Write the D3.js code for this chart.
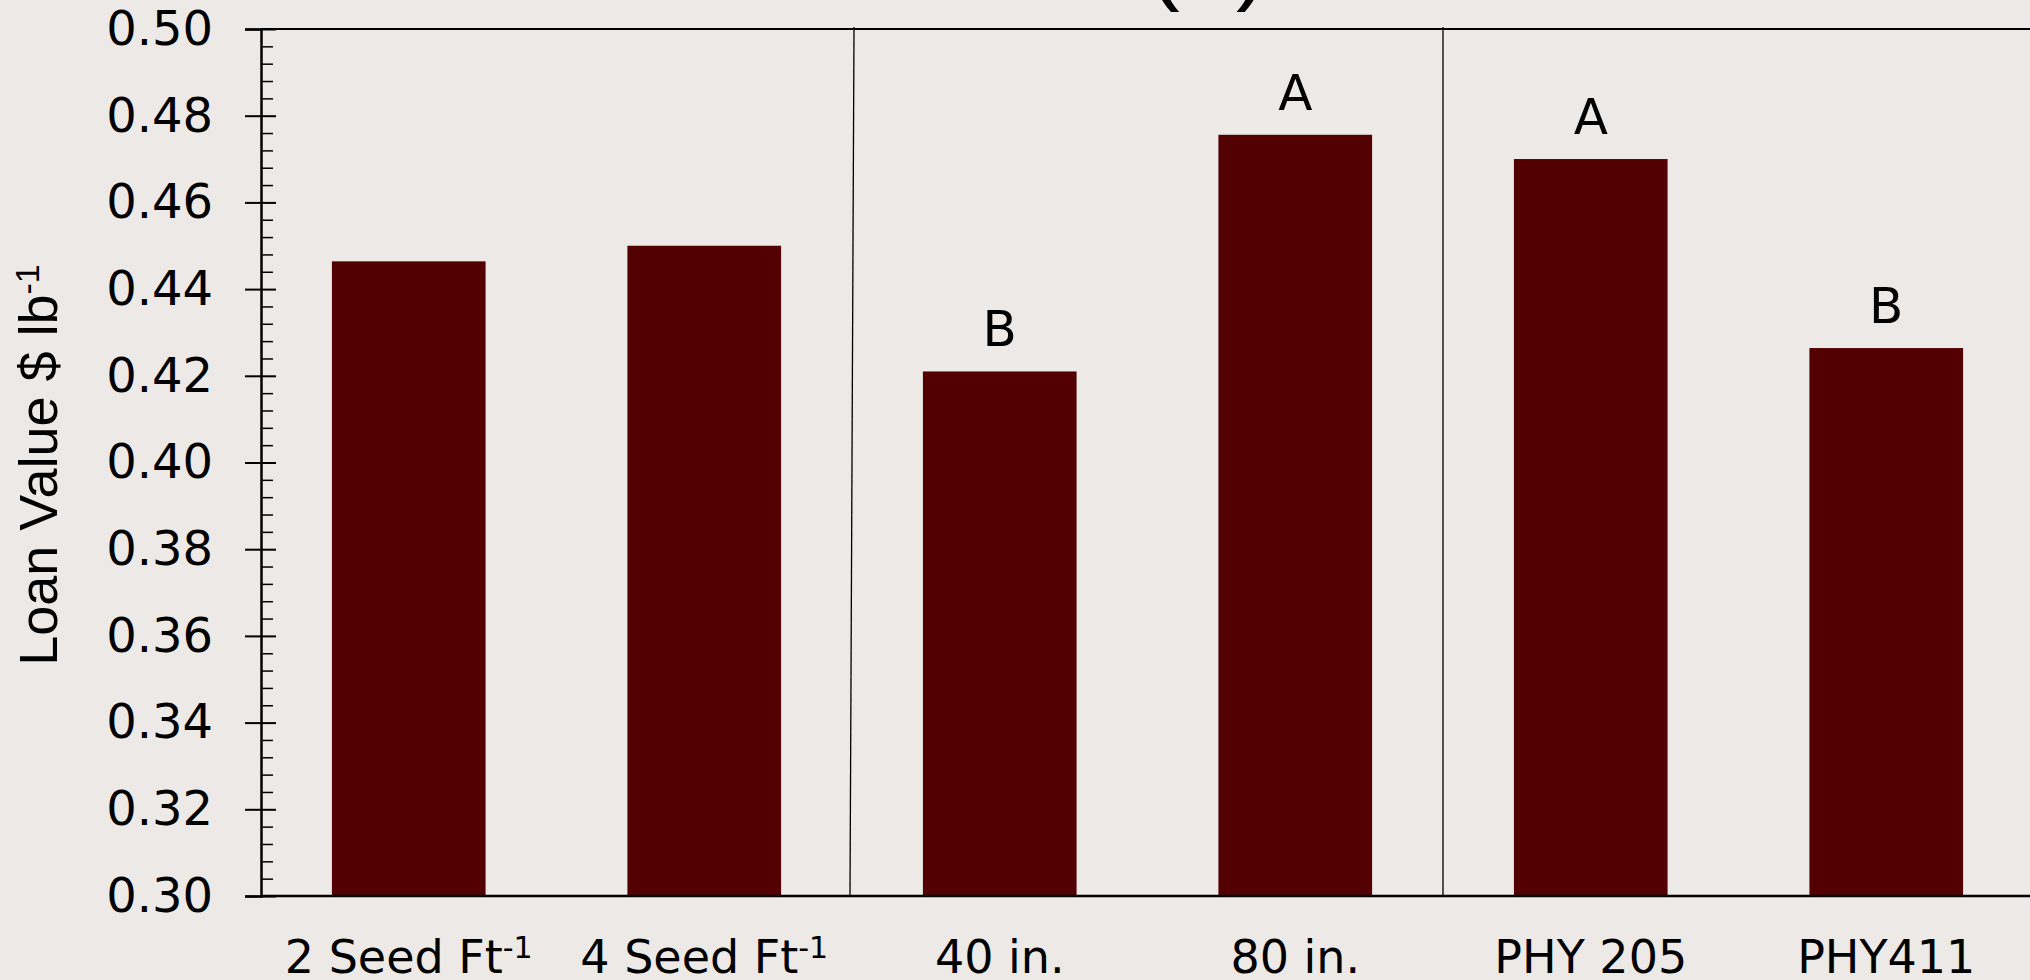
<!DOCTYPE html>
<html>
<head>
<meta charset="utf-8">
<script src="https://cdn.jsdelivr.net/npm/d3@7"></script>
<style>
  body { margin: 0; background: #ece9e6; }
  svg { display: block; }
</style>
</head>
<body>
<div id="chart"></div>
<script>
const categories = ["2 Seed Ft", "4 Seed Ft", "40 in.", "80 in.", "PHY 205", "PHY411"];
const superscripts = ["-1", "-1", "", "", "", ""];
const values = [0.4464, 0.4500, 0.4210, 0.4756, 0.4700, 0.4264];
const letters = ["", "", "B", "A", "A", "B"];
const majorTicks = [0.30, 0.32, 0.34, 0.36, 0.38, 0.40, 0.42, 0.44, 0.46, 0.48, 0.50];
const groupStarts = ["40 in.", "PHY 205"];

const svgWidth = 2030;
const svgHeight = 980;
const margin = { top: 29, right: -4, bottom: 84, left: 261 };
const barColor = "#520002";
const tickFont = "'DejaVu Sans', sans-serif";

const svg = d3.select("#chart")
    .append("svg")
    .attr("width", svgWidth)
    .attr("height", svgHeight);

svg.append("rect")
    .attr("width", svgWidth)
    .attr("height", svgHeight)
    .attr("fill", "#ece9e6");

const x = d3.scaleBand()
    .domain(categories)
    .range([margin.left, svgWidth - margin.right])
    .paddingInner(0.48)
    .paddingOuter(0.24);

const y = d3.scaleLinear()
    .domain([0.30, 0.50])
    .range([svgHeight - margin.bottom, margin.top]);

// title, cut off at the top edge: only the parentheses' tails show
svg.append("text")
    .attr("x", 1250)
    .attr("y", -8)
    .attr("text-anchor", "end")
    .style("font-family", "'Liberation Sans', Arial, sans-serif")
    .style("font-size", "96px")
    .style("letter-spacing", "-18px")
    .text("Loan Value (LV)");

// bars
svg.selectAll("rect.bar")
    .data(categories)
    .enter()
    .append("rect")
    .attr("class", "bar")
    .attr("x", d => x(d))
    .attr("y", (d, i) => y(values[i]))
    .attr("width", x.bandwidth())
    .attr("height", (d, i) => y(0.30) - y(values[i]))
    .attr("fill", barColor);

// significance letters
svg.selectAll("text.letter")
    .data(categories)
    .enter()
    .append("text")
    .attr("class", "letter")
    .attr("x", d => x(d) + x.bandwidth() / 2)
    .attr("y", (d, i) => y(values[i]) - 25)
    .attr("text-anchor", "middle")
    .style("font-family", tickFont)
    .style("font-size", "50px")
    .text((d, i) => letters[i]);

// frame lines top and bottom
[0.50, 0.30].forEach(v => {
    svg.append("line")
        .attr("x1", margin.left)
        .attr("x2", svgWidth)
        .attr("y1", y(v))
        .attr("y2", y(v))
        .attr("stroke", "#000")
        .attr("stroke-width", v === 0.30 ? 2.5 : 2);
});

// group separators
const tilt = [4, 0];
groupStarts.forEach((g, i) => {
    const gx = x(g) - x.step() * x.paddingInner() / 2;
    svg.append("line")
        .attr("x1", gx + tilt[i] / 2)
        .attr("x2", gx - tilt[i] / 2)
        .attr("y1", y(0.50) - 2)
        .attr("y2", y(0.30))
        .attr("stroke", "#000")
        .attr("stroke-width", 1.3);
});

// y axis: majors with labels
const yAxis = svg.append("g")
    .attr("transform", `translate(${margin.left},0)`)
    .call(d3.axisLeft(y)
        .tickValues(majorTicks)
        .tickSize(16)
        .tickPadding(32)
        .tickFormat(d3.format(".2f")));

yAxis.select(".domain").attr("stroke-width", 2.5);
yAxis.selectAll(".tick line").attr("stroke-width", 2);
yAxis.selectAll(".tick text")
    .style("font-family", tickFont)
    .style("font-size", "48px")
    .attr("fill", "#000");

// inner part of major ticks
const inner = svg.append("g")
    .attr("transform", `translate(${margin.left},0)`)
    .call(d3.axisRight(y).tickValues(majorTicks).tickSize(15).tickFormat(""));
inner.select(".domain").remove();
inner.selectAll(".tick line").attr("stroke-width", 2);

// minor ticks
const minorTicks = d3.range(0, 51).map(i => +(0.30 + i * 0.004).toFixed(3))
    .filter(v => !majorTicks.some(m => Math.abs(m - v) < 1e-6));
const minor = svg.append("g")
    .attr("transform", `translate(${margin.left},0)`)
    .call(d3.axisRight(y).tickValues(minorTicks).tickSize(12).tickFormat(""));
minor.select(".domain").remove();
minor.selectAll(".tick line").attr("stroke-width", 1.5);

// x labels
const xLabels = svg.selectAll("text.xlabel")
    .data(categories)
    .enter()
    .append("text")
    .attr("class", "xlabel")
    .attr("x", d => x(d) + x.bandwidth() / 2)
    .attr("y", 973)
    .attr("text-anchor", "middle")
    .style("font-family", tickFont)
    .style("font-size", "46px");

xLabels.append("tspan").text(d => d);
xLabels.append("tspan")
    .attr("dy", -15)
    .style("font-size", "30px")
    .text((d, i) => superscripts[i]);

// y axis title
const yTitle = svg.append("text")
    .attr("transform", "rotate(-90)")
    .attr("x", -465)
    .attr("y", 57)
    .attr("text-anchor", "middle")
    .style("font-family", "'Liberation Sans', Arial, sans-serif")
    .style("font-size", "54px");

yTitle.append("tspan").text("Loan Value $ lb");
yTitle.append("tspan")
    .attr("dy", -18)
    .style("font-size", "34px")
    .text("-1");
</script>
</body>
</html>
